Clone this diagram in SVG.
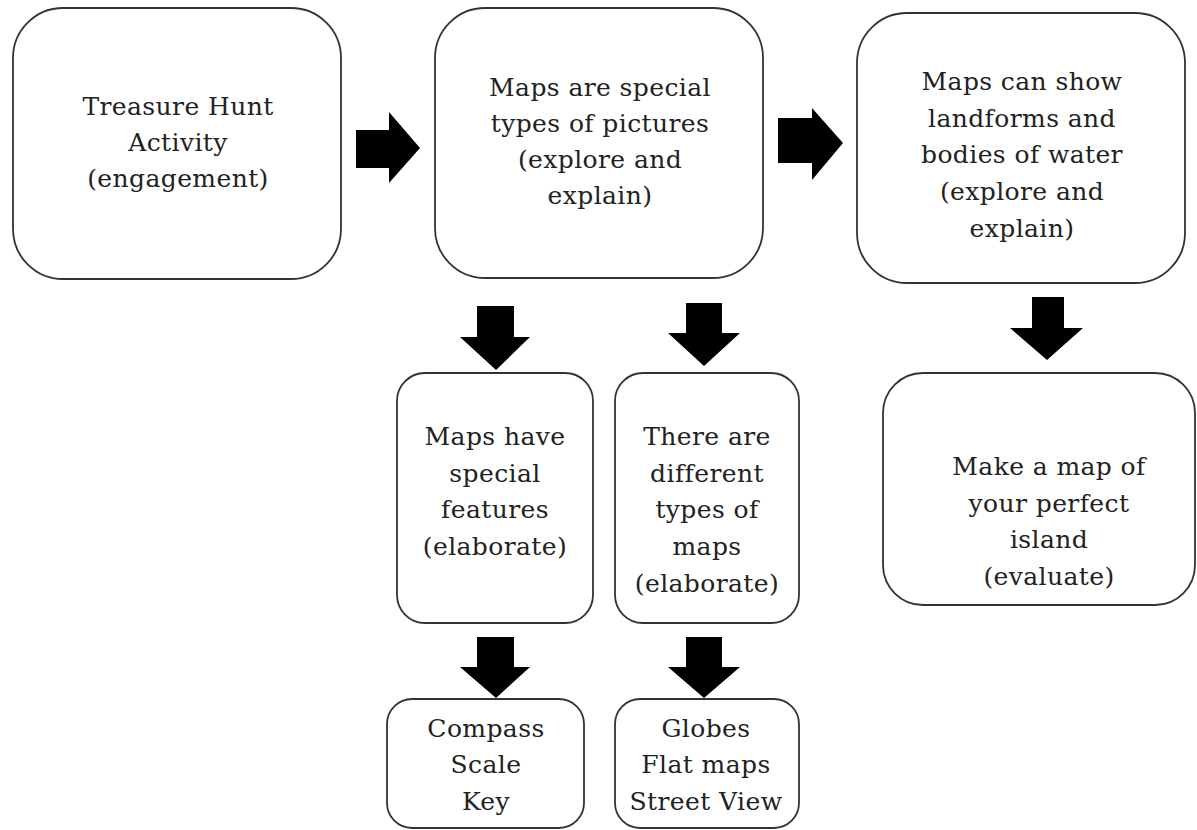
<svg xmlns="http://www.w3.org/2000/svg" width="1197" height="830" viewBox="0 0 1197 830">
<style>
.box{fill:#fff;stroke:#333;stroke-width:1.8}
.t{font-family:"DejaVu Serif","Liberation Serif",serif;font-size:25px;letter-spacing:0.4px;fill:#222;text-anchor:middle}
.arr{fill:#000}
</style>
<rect width="1197" height="830" fill="#fff"/>
<g id="n1"><rect class="box" x="13" y="8" width="328" height="271" rx="50"/>
<text class="t"><tspan x="178" y="115">Treasure Hunt</tspan><tspan x="178" y="151">Activity</tspan><tspan x="178" y="187">(engagement)</tspan></text></g>
<g id="n2"><rect class="box" x="435" y="8" width="328" height="270" rx="50"/>
<text class="t"><tspan x="600" y="96">Maps are special</tspan><tspan x="600" y="132">types of pictures</tspan><tspan x="600" y="168">(explore and</tspan><tspan x="600" y="204">explain)</tspan></text></g>
<g id="n3"><rect class="box" x="857" y="13" width="328" height="270" rx="50"/>
<text class="t"><tspan x="1022" y="90">Maps can show</tspan><tspan x="1022" y="127">landforms and</tspan><tspan x="1022" y="163">bodies of water</tspan><tspan x="1022" y="200">(explore and</tspan><tspan x="1022" y="237">explain)</tspan></text></g>
<g id="n4"><rect class="box" x="397" y="373" width="196" height="250" rx="28"/>
<text class="t"><tspan x="495" y="445">Maps have</tspan><tspan x="495" y="482">special</tspan><tspan x="495" y="518">features</tspan><tspan x="495" y="555">(elaborate)</tspan></text></g>
<g id="n5"><rect class="box" x="615" y="373" width="184" height="250" rx="28"/>
<text class="t"><tspan x="707" y="445">There are</tspan><tspan x="707" y="482">different</tspan><tspan x="707" y="518">types of</tspan><tspan x="707" y="555">maps</tspan><tspan x="707" y="592">(elaborate)</tspan></text></g>
<g id="n6"><rect class="box" x="387" y="699" width="197" height="129" rx="25"/>
<text class="t"><tspan x="486" y="737">Compass</tspan><tspan x="486" y="773">Scale</tspan><tspan x="486" y="810">Key</tspan></text></g>
<g id="n7"><rect class="box" x="615" y="699" width="184" height="129" rx="25"/>
<text class="t"><tspan x="706" y="737">Globes</tspan><tspan x="706" y="773">Flat maps</tspan><tspan x="706" y="810">Street View</tspan></text></g>
<g id="n8"><rect class="box" x="883" y="373" width="312" height="232" rx="40"/>
<text class="t"><tspan x="1049" y="475">Make a map of</tspan><tspan x="1049" y="512">your perfect</tspan><tspan x="1049" y="548">island</tspan><tspan x="1049" y="585">(evaluate)</tspan></text></g>
<g id="connectors">
<polygon class="arr" points="356,130 389,130 389,112 420,148 389,183 389,168 356,168"/>
<polygon class="arr" points="778,118 812,118 812,108 843,143 812,180 812,163 778,163"/>
<polygon class="arr" points="477,306 514,306 514,337 530,337 496,370 460,337 477,337"/>
<polygon class="arr" points="686,303 722,303 722,333 740,333 704,366 668,333 686,333"/>
<polygon class="arr" points="477,637 514,637 514,667 530,667 496,698 460,667 477,667"/>
<polygon class="arr" points="686,637 722,637 722,667 740,667 704,698 668,667 686,667"/>
<polygon class="arr" points="1032,297 1064,297 1064,328 1083,328 1047,360 1010,328 1032,328"/>
</g>
</svg>
